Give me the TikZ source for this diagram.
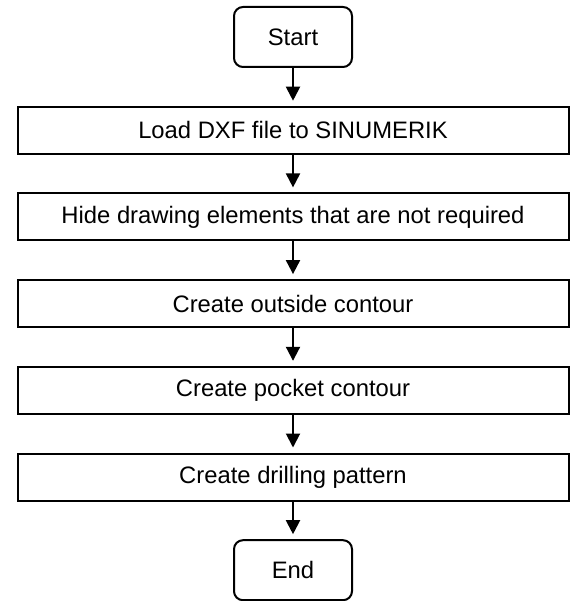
\documentclass[tikz,border=0pt]{standalone}
\usepackage{fontspec}
\setmainfont{Liberation Sans}
\usetikzlibrary{arrows.meta, positioning}
\tikzstyle{terminal} = [rectangle, rounded corners=9pt, minimum width=118pt, minimum height=60pt, text centered, draw=black, line width=2pt]
\tikzstyle{process} = [rectangle, minimum width=551pt, minimum height=47pt, text centered, draw=black, line width=2pt]
\tikzstyle{arrow} = [line width=2pt, -{Triangle[length=14pt, width=14pt]}, shorten >=5pt]

\begin{document}
\begin{tikzpicture}[node distance=37.7pt, font=\fontsize{23.8}{28}\selectfont]
\useasboundingbox (0,0) rectangle (569pt,-601pt);

\node (start) [terminal] at (293pt,-37pt) {Start};

\node (load) [process, below=of start] {Load DXF file to SINUMERIK};
\draw [arrow] (start) -- (load);

\node (hide) [process, below=of load] {Hide drawing elements that are not required};
\draw [arrow] (load) -- (hide);

\node (outside) [process, below=of hide] {Create outside contour};
\draw [arrow] (hide) -- (outside);

\node (pocket) [process, below=of outside] {Create pocket contour};
\draw [arrow] (outside) -- (pocket);

\node (drill) [process, below=of pocket] {Create drilling pattern};
\draw [arrow] (pocket) -- (drill);

\node (end) [terminal, below=of drill] {End};
\draw [arrow] (drill) -- (end);

\end{tikzpicture}
\end{document}
